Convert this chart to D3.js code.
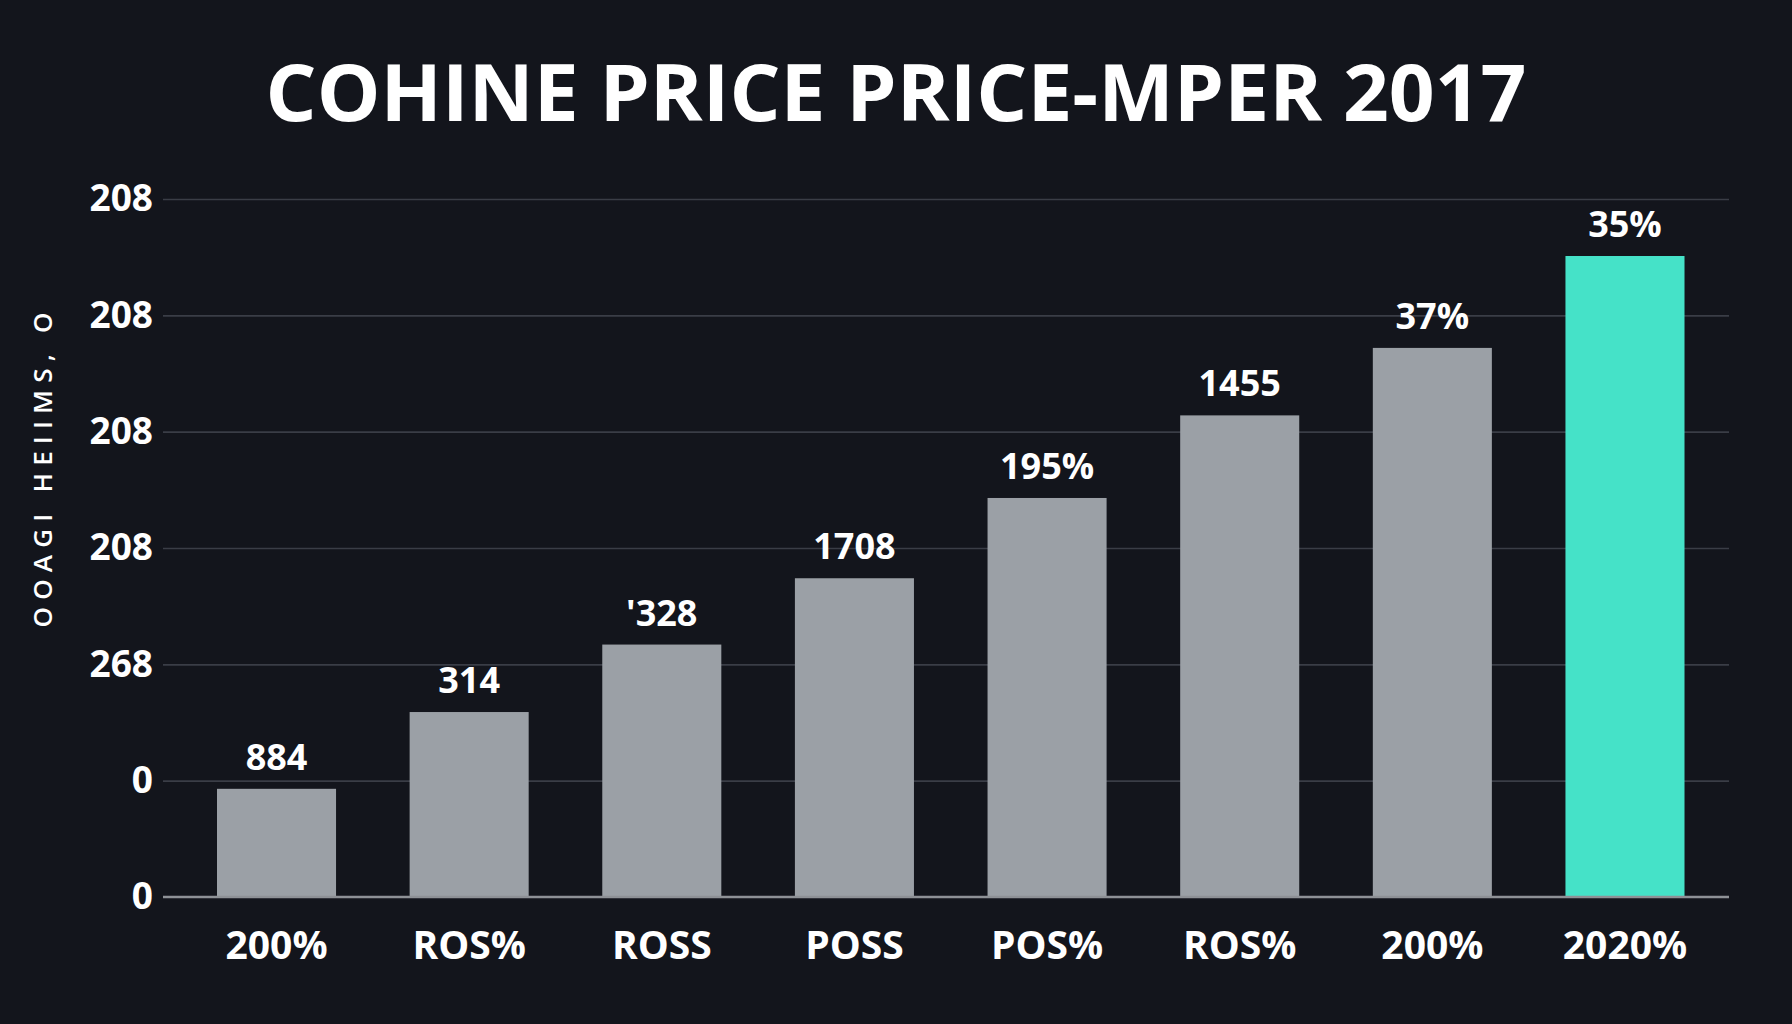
<!DOCTYPE html>
<html>
<head>
<meta charset="utf-8">
<script src="https://cdn.jsdelivr.net/npm/d3@7"></script>
<style>
  html, body { margin: 0; padding: 0; background: #13151c; }
  svg { display: block; }
  text { font-family: "Open Sans", "DejaVu Sans", sans-serif; font-weight: 700; fill: #ffffff; }
</style>
</head>
<body>
<div id="chart"></div>
<script>
	var categories = ['200%', 'ROS%', 'ROSS', 'POSS', 'POS%', 'ROS%', '200%', '2020%'];
	var catKeys = categories.map(function(d, i) { return i; });
	// bar heights, in gridline units
	var values = [0.93, 1.59, 2.17, 2.74, 3.43, 4.14, 4.72, 5.51];
	var barLabels = ['884', '314', '\'328', '1708', '195%', '1455', '37%', '35%'];
	var tickValues = [0, 1, 2, 3, 4, 5, 6];
	var tickLabels = ['0', '0', '268', '208', '208', '208', '208'];

	var W = 1792, H = 1024;
	var gridLeft = 163, gridRight = 1729;

	var svg = d3.select('#chart').append('svg')
		.attr('width', W)
		.attr('height', H);

	svg.append('rect')
		.attr('width', W)
		.attr('height', H)
		.attr('fill', '#13151c');

	var y = d3.scaleLinear()
		.domain([0, 6])
		.range([897, 199]);

	var x = d3.scaleBand()
		.domain(catKeys)
		.range([180.2, 1721.3])
		.paddingInner(0.382)
		.paddingOuter(0.191);

	// title
	svg.append('text')
		.attr('x', 896)
		.attr('y', 121)
		.attr('text-anchor', 'middle')
		.attr('textLength', 1261)
		.attr('lengthAdjust', 'spacingAndGlyphs')
		.style('font-size', '78px')
		.text('COHINE PRICE PRICE-MPER 2017');

	// gridlines
	svg.append('g')
		.attr('class', 'grid')
		.attr('transform', 'translate(' + gridLeft + ',0)')
		.call(d3.axisLeft(y)
			.tickValues(tickValues.slice(1))
			.tickSize(-(gridRight - gridLeft))
			.tickFormat(''))
		.call(function(g) { g.select('.domain').remove(); })
		.selectAll('line')
		.attr('stroke', '#3a3d46')
		.attr('stroke-width', 1.6);

	// y axis labels
	var yAxis = svg.append('g')
		.attr('transform', 'translate(' + gridLeft + ',0)')
		.call(d3.axisLeft(y)
			.tickValues(tickValues)
			.tickSize(0)
			.tickPadding(10)
			.tickFormat(function(d, i) { return tickLabels[i]; }));
	yAxis.select('.domain').remove();
	yAxis.selectAll('text')
		.attr('fill', '#ffffff')
		.style('font-size', '37px')
		.style('font-family', '"Open Sans", sans-serif')
		.style('font-weight', '700');

	// y axis title
	svg.append('text')
		.attr('transform', 'translate(52,470) rotate(-90)')
		.attr('text-anchor', 'middle')
		.attr('textLength', 315)
		.attr('lengthAdjust', 'spacing')
		.style('font-size', '26px')
		.style('font-weight', '600')
		.text('OOAGI HEIIMS, O');

	// bars
	svg.selectAll('.bar')
		.data(values)
		.enter().append('rect')
		.attr('class', 'bar')
		.attr('x', function(d, i) { return x(i); })
		.attr('y', function(d) { return y(d); })
		.attr('width', x.bandwidth())
		.attr('height', function(d) { return y(0) - y(d); })
		.attr('fill', function(d, i) { return i === values.length - 1 ? '#45e2c8' : '#9ba0a6'; });

	// value labels
	svg.selectAll('.val')
		.data(values)
		.enter().append('text')
		.attr('class', 'val')
		.attr('x', function(d, i) { return x(i) + x.bandwidth() / 2; })
		.attr('y', function(d) { return y(d) - 19; })
		.attr('text-anchor', 'middle')
		.style('font-size', '36px')
		.text(function(d, i) { return barLabels[i]; });

	// baseline
	svg.append('line')
		.attr('x1', gridLeft)
		.attr('x2', gridRight)
		.attr('y1', y(0))
		.attr('y2', y(0))
		.attr('stroke', '#8e9196')
		.attr('stroke-width', 2.5);

	// x axis
	var xAxis = svg.append('g')
		.attr('transform', 'translate(0,' + y(0) + ')')
		.call(d3.axisBottom(x)
			.tickSize(0)
			.tickPadding(34)
			.tickFormat(function(d) { return categories[d]; }));
	xAxis.select('.domain').remove();
	xAxis.selectAll('text')
		.attr('fill', '#ffffff')
		.style('font-size', '39px')
		.style('font-family', '"Open Sans", sans-serif')
		.style('font-weight', '700');
</script>
</body>
</html>
